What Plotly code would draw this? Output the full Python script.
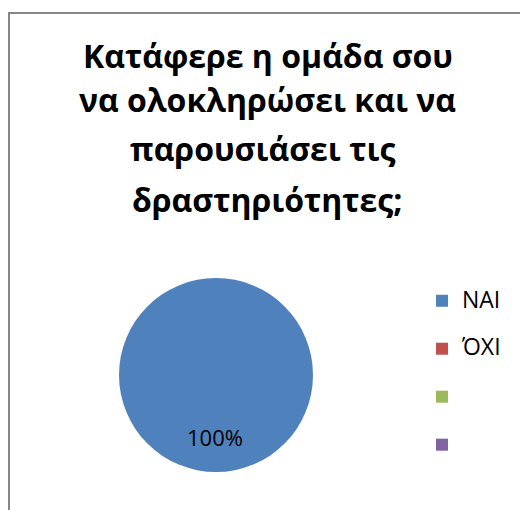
import plotly.graph_objects as go

# Data
categories = ["NAI", "ΌΧΙ", "", ""]
values = [100, 0, 0, 0]
colors = ["#4F81BD", "#C0504D", "#9BBB59", "#8064A2"]
title_lines = ["Κατάφερε η ομάδα σου", "να ολοκληρώσει και να", "παρουσιάσει τις", "δραστηριότητες;"]

W, H = 520, 510
FONT = "Open Sans"

# unique legend labels (two-line items for spacing)
legend_labels = []
for i, c in enumerate(categories):
    txt = c if c else "\u00a0" * (i + 1)
    legend_labels.append(f"<span style='font-size:23px'>{txt}</span><br>\u00a0")

total = sum(values)
pct_text = f"{round(100 * values[0] / total)}%"

fig = go.Figure()
fig.add_trace(go.Pie(
    labels=legend_labels,
    values=values,
    marker=dict(colors=colors, line=dict(width=0)),
    textinfo="none",
    sort=False,
    direction="clockwise",
    hoverinfo="label+percent",
    domain=dict(x=[119 / W, 313 / W], y=[1 - 472 / H, 1 - 278 / H]),
))

annotations = []
ycenters = [55, 100, 148, 200]
xcenters = [267.5, 267.5, 262, 267]
for line, yc, xc in zip(title_lines, ycenters, xcenters):
    annotations.append(dict(
        text=f"<b>{line}</b>", x=xc / W, y=1 - yc / H, xref="paper", yref="paper",
        xanchor="center", yanchor="middle", showarrow=False,
        font=dict(family=FONT, size=32, color="#000000"),
    ))
annotations.append(dict(
    text=pct_text, x=214.5 / W, y=1 - 437 / H, xref="paper", yref="paper",
    xanchor="center", yanchor="middle", showarrow=False,
    font=dict(family=FONT, size=22, color="#000000"),
))

fig.update_layout(
    width=W, height=H,
    margin=dict(l=0, r=0, t=0, b=0),
    paper_bgcolor="white", plot_bgcolor="white",
    showlegend=True,
    legend=dict(
        x=422 / W, y=1 - 283 / H, xanchor="left", yanchor="top",
        font=dict(family=FONT, size=17.3, color="#000000"),
        valign="top", bgcolor="rgba(0,0,0,0)", borderwidth=0,
        traceorder="normal",
    ),
    annotations=annotations,
    shapes=[dict(
        type="rect", xref="paper", yref="paper",
        x0=9 / W, x1=1.02, y0=-0.02, y1=1 - 13 / H,
        line=dict(color="#878787", width=2), fillcolor="rgba(0,0,0,0)",
    )],
)

fig.write_html("out.html")
